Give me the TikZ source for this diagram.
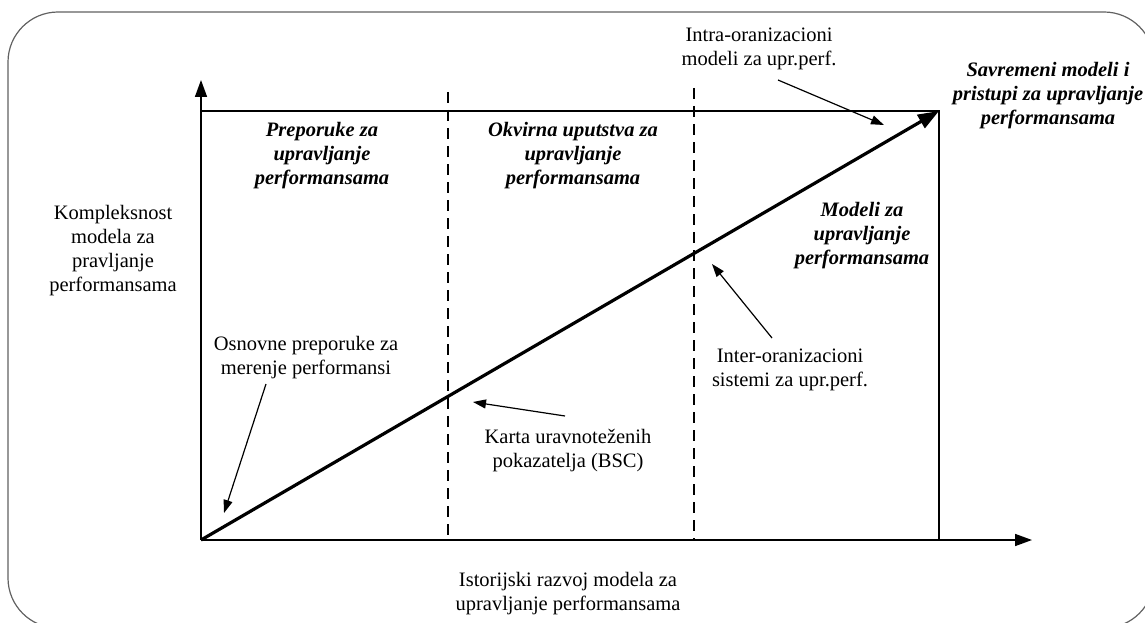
\documentclass[tikz,border=0pt]{standalone}
\usepackage{fontspec}
\setmainfont{Liberation Serif}
\usetikzlibrary{arrows.meta}
\begin{document}
\begin{tikzpicture}[x=1pt,y=-1pt,
  txt/.style={align=center,inner sep=0pt,font=\fontsize{20.5}{24}\selectfont},
  btxt/.style={align=center,inner sep=0pt,font=\fontsize{20.5}{24}\selectfont\bfseries\itshape},
  outer/.style={draw=black!62,line width=1.2pt,rounded corners=50pt},
  axis/.style={line width=1.6pt,-{Triangle[length=17pt,width=12pt]}},
  boxline/.style={line width=1.4pt},
  divider/.style={line width=1.3pt,dash pattern=on 11pt off 7pt},
  trend/.style={line width=3.2pt,-{Triangle[length=21pt,width=15pt]}},
  pointer/.style={line width=1.2pt,-{Triangle[length=13pt,width=9pt]}}]

% page area
\clip (0,0) rectangle (1145,623);
\draw[outer] (8,12) rectangle (1154,628);

% axes and the frame of the chart
\coordinate (O) at (201,540);
\coordinate (ytip) at (201,80);
\coordinate (xtip) at (1032,540);
\coordinate (TL) at (201,111);
\coordinate (TR) at (939,111);
\coordinate (BR) at (939,540);
\draw[axis] (O) -- (ytip);
\draw[axis] (O) -- (xtip);
\draw[boxline] (TL) -- (TR) -- (BR);

% phase dividers
\coordinate (d1t) at (448,92);
\coordinate (d1b) at (448,540);
\coordinate (d2t) at (694,88);
\coordinate (d2b) at (694,540);
\draw[divider] (d1t) -- (d1b);
\draw[divider] (d2t) -- (d2b);

% growth of model complexity
\draw[trend] (O) -- (TR);

% axis captions
\node[txt] (ylab) at (113,251) {Kompleksnost\\modela za\\pravljanje\\performansama};
\node[txt] (xlab) at (568,594) {Istorijski razvoj modela za\\upravljanje performansama};

% phase titles
\node[btxt] (ph1) at (322,156) {Preporuke za\\upravljanje\\performansama};
\node[btxt] (ph2) at (573,156) {Okvirna uputstva za\\upravljanje\\performansama};
\node[btxt] (ph3) at (862,236) {Modeli za\\upravljanje\\performansama};
\node[btxt] (ph4) at (1048,96) {Savremeni modeli i\\pristupi za upravljanje\\performansama};

% milestones
\node[txt] (m1) at (306,358) {Osnovne preporuke za\\merenje performansi};
\node[txt] (m2) at (568,451) {Karta uravnoteženih\\pokazatelja (BSC)};
\node[txt] (m3) at (790,370) {Inter-oranizacioni\\sistemi za upr.perf.};
\node[txt] (m4) at (759,49) {Intra-oranizacioni\\modeli za upr.perf.};

\coordinate (m1s) at (266,384);
\coordinate (m1e) at (224,513);
\coordinate (m2s) at (565,416);
\coordinate (m2e) at (473,402);
\coordinate (m3s) at (772,338);
\coordinate (m3e) at (712,264);
\coordinate (m4s) at (778,80);
\coordinate (m4e) at (884,125);
\draw[pointer] (m1s) -- (m1e);
\draw[pointer] (m2s) -- (m2e);
\draw[pointer] (m3s) -- (m3e);
\draw[pointer] (m4s) -- (m4e);
\end{tikzpicture}
\end{document}
